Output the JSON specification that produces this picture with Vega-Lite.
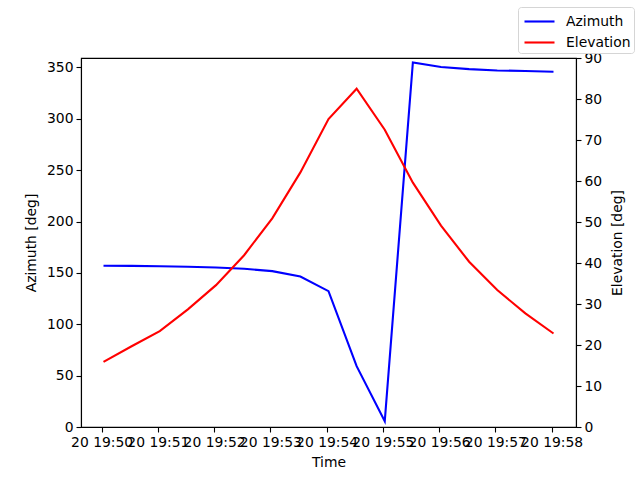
{
  "$schema": "https://vega.github.io/schema/vega-lite/v6.json",
  "width": 495,
  "height": 369,
  "autosize": {"type": "none"},
  "padding": {"left": 81, "top": 58, "right": 64, "bottom": 53},
  "config": {
    "font": "DejaVu Sans",
    "view": {"stroke": "black", "strokeWidth": 1.1},
    "axis": {
      "labelFont": "DejaVu Sans", "titleFont": "DejaVu Sans",
      "labelFontSize": 13.9, "titleFontSize": 13.9, "titleFontWeight": "normal",
      "labelColor": "black", "titleColor": "black",
      "domainColor": "black", "tickColor": "black", "tickSize": 5, "tickWidth": 1.1, "domainWidth": 1.1,
      "grid": false, "labelOverlap": false, "labelFlush": false, "labelBound": false, "labelPadding": 3
    },
    "legend": {
      "labelFont": "DejaVu Sans", "labelFontSize": 13.9, "labelColor": "black"
    }
  },
  "data": {"values": [
    {"t": "2024-01-20T19:50:02Z", "az": 157.0, "el": 15.9},
    {"t": "2024-01-20T19:50:32Z", "az": 156.8, "el": 19.7},
    {"t": "2024-01-20T19:51:02Z", "az": 156.5, "el": 23.4},
    {"t": "2024-01-20T19:51:32Z", "az": 156.0, "el": 28.7},
    {"t": "2024-01-20T19:52:02Z", "az": 155.3, "el": 34.6},
    {"t": "2024-01-20T19:52:32Z", "az": 154.0, "el": 41.9},
    {"t": "2024-01-20T19:53:02Z", "az": 151.7, "el": 50.9},
    {"t": "2024-01-20T19:53:32Z", "az": 146.5, "el": 62.1},
    {"t": "2024-01-20T19:54:02Z", "az": 132.2, "el": 75.1},
    {"t": "2024-01-20T19:54:32Z", "az": 59.2, "el": 82.5},
    {"t": "2024-01-20T19:55:02Z", "az": 5.6, "el": 72.5},
    {"t": "2024-01-20T19:55:32Z", "az": 354.9, "el": 59.6},
    {"t": "2024-01-20T19:56:02Z", "az": 350.4, "el": 49.1},
    {"t": "2024-01-20T19:56:32Z", "az": 348.4, "el": 40.3},
    {"t": "2024-01-20T19:57:02Z", "az": 347.1, "el": 33.4},
    {"t": "2024-01-20T19:57:32Z", "az": 346.5, "el": 27.7},
    {"t": "2024-01-20T19:58:02Z", "az": 345.8, "el": 22.8}
  ]},
  "encoding": {
    "x": {
      "field": "t", "type": "temporal", "title": "Time",
      "scale": {"type": "utc", "domain": [
        {"year": 2024, "month": 1, "date": 20, "hours": 19, "minutes": 49, "seconds": 38, "utc": true},
        {"year": 2024, "month": 1, "date": 20, "hours": 19, "minutes": 58, "seconds": 26, "utc": true}
      ]},
      "axis": {
        "values": [
          {"year": 2024, "month": 1, "date": 20, "hours": 19, "minutes": 50, "utc": true},
          {"year": 2024, "month": 1, "date": 20, "hours": 19, "minutes": 51, "utc": true},
          {"year": 2024, "month": 1, "date": 20, "hours": 19, "minutes": 52, "utc": true},
          {"year": 2024, "month": 1, "date": 20, "hours": 19, "minutes": 53, "utc": true},
          {"year": 2024, "month": 1, "date": 20, "hours": 19, "minutes": 54, "utc": true},
          {"year": 2024, "month": 1, "date": 20, "hours": 19, "minutes": 55, "utc": true},
          {"year": 2024, "month": 1, "date": 20, "hours": 19, "minutes": 56, "utc": true},
          {"year": 2024, "month": 1, "date": 20, "hours": 19, "minutes": 57, "utc": true},
          {"year": 2024, "month": 1, "date": 20, "hours": 19, "minutes": 58, "utc": true}
        ],
        "labelExpr": "utcFormat(datum.value, '%d %H:%M')",
        "labelAngle": 0, "titlePadding": 7
      }
    }
  },
  "layer": [
    {
      "mark": {"type": "line", "strokeWidth": 2.1},
      "encoding": {
        "y": {"field": "az", "type": "quantitative", "title": "Azimuth [deg]",
          "scale": {"domain": [0, 359.2], "nice": false, "zero": false},
          "axis": {"values": [0, 50, 100, 150, 200, 250, 300, 350], "titlePadding": 8}},
        "color": {"datum": "Azimuth", "type": "nominal",
          "scale": {"domain": ["Azimuth", "Elevation"], "range": ["#0000ff", "#ff0000"]},
          "legend": {"title": null, "orient": "none", "legendX": 437, "legendY": -51,
            "symbolType": "M-0.8,0H2.2", "symbolStrokeWidth": 2.1, "symbolSize": 400,
            "strokeColor": "#d5d5d5", "fillColor": "white", "cornerRadius": 3, "padding": 3,
            "rowPadding": 2, "labelOffset": 22}}
      }
    },
    {
      "mark": {"type": "line", "strokeWidth": 2.1},
      "encoding": {
        "y": {"field": "el", "type": "quantitative", "title": "Elevation [deg]",
          "scale": {"domain": [0, 90], "nice": false},
          "axis": {"orient": "right", "values": [0, 10, 20, 30, 40, 50, 60, 70, 80, 90], "titlePadding": 23, "titleAngle": 270}},
        "color": {"datum": "Elevation", "type": "nominal"}
      }
    }
  ],
  "resolve": {"scale": {"y": "independent"}}
}
